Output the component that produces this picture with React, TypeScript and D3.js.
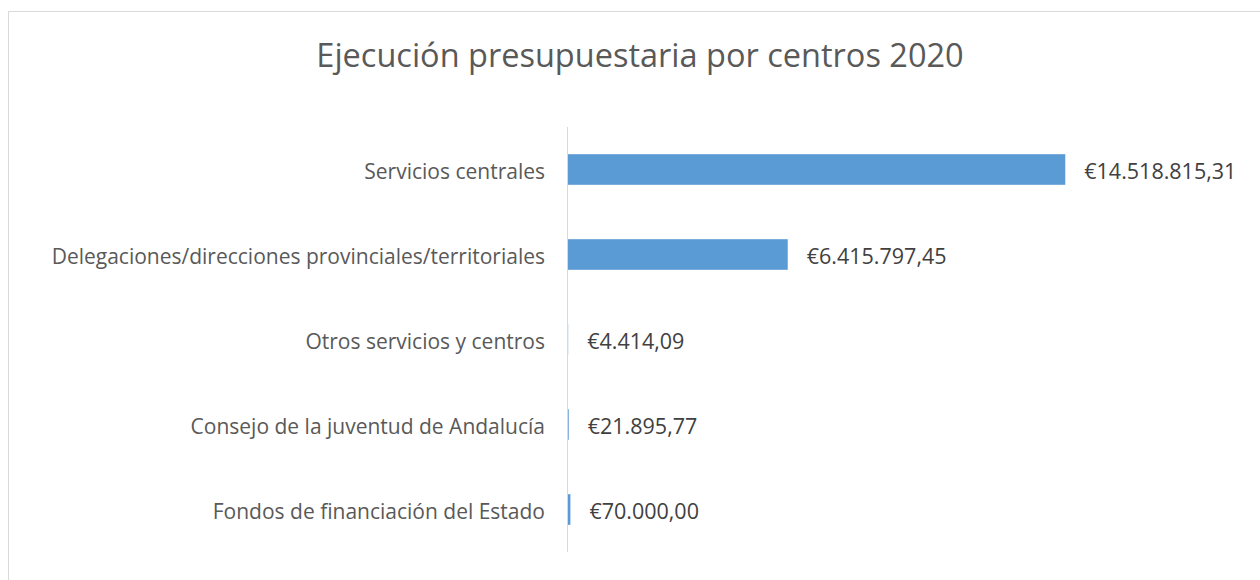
import React from "react";
import * as d3 from "d3";

const categories = [
  "Servicios centrales",
  "Delegaciones/direcciones provinciales/territoriales",
  "Otros servicios y centros",
  "Consejo de la juventud de Andalucía",
  "Fondos de financiación del Estado",
];
const amounts = [14518815.31, 6415797.45, 4414.09, 21895.77, 70000.0];
const chartTitle = "Ejecución presupuestaria por centros 2020";

const esLocale = d3.formatLocale({
  decimal: ",",
  thousands: ".",
  grouping: [3],
  currency: ["€", ""],
});
const fmtEuro = esLocale.format("$,.2f");

const W = 1260;
const H = 580;
const FONT = "'Open Sans', sans-serif";

export default function App() {
  // plot area (axis line at x=568)
  const x = d3.scaleLinear().domain([0, 16000000]).range([568, 1116]);
  const y = d3
    .scaleBand<string>()
    .domain(categories)
    .range([127, 552])
    .paddingInner(0.64)
    .paddingOuter(0.32);
  const mid = (c: string) => (y(c) as number) + y.bandwidth() / 2 + 1;

  return (
    <>
      <style>{"body{margin:0}"}</style>
      <svg width={W} height={H} style={{ display: "block", fontFamily: FONT }}>
        <rect x={0} y={0} width={W} height={H} fill="#fff" />
        {/* chart frame */}
        <rect
          x={8.5}
          y={11.5}
          width={W + 20}
          height={H + 20}
          fill="none"
          stroke="#d9d9d9"
          strokeWidth={1}
        />
        <text
          x={640}
          y={67}
          textAnchor="middle"
          fontSize={32.5}
          fill="#595959"
        >
          {chartTitle}
        </text>

        {categories.map((c, i) => (
          <g key={c}>
            <rect
              x={x(0)}
              y={y(c)}
              width={x(amounts[i]) - x(0)}
              height={y.bandwidth()}
              fill="#5b9bd5"
            />
            <text
              x={545}
              y={mid(c)}
              textAnchor="end"
              dominantBaseline="central"
              fontSize={21}
              fill="#595959"
            >
              {c}
            </text>
            <text
              x={x(amounts[i]) + 19}
              y={mid(c)}
              dominantBaseline="central"
              fontSize={21.5}
              fill="#404040"
            >
              {fmtEuro(amounts[i])}
            </text>
          </g>
        ))}

        {/* category axis line */}
        <line
          x1={x(0) - 0.5}
          x2={x(0) - 0.5}
          y1={127}
          y2={552}
          stroke="#d9d9d9"
          strokeWidth={1}
        />
      </svg>
    </>
  );
}
